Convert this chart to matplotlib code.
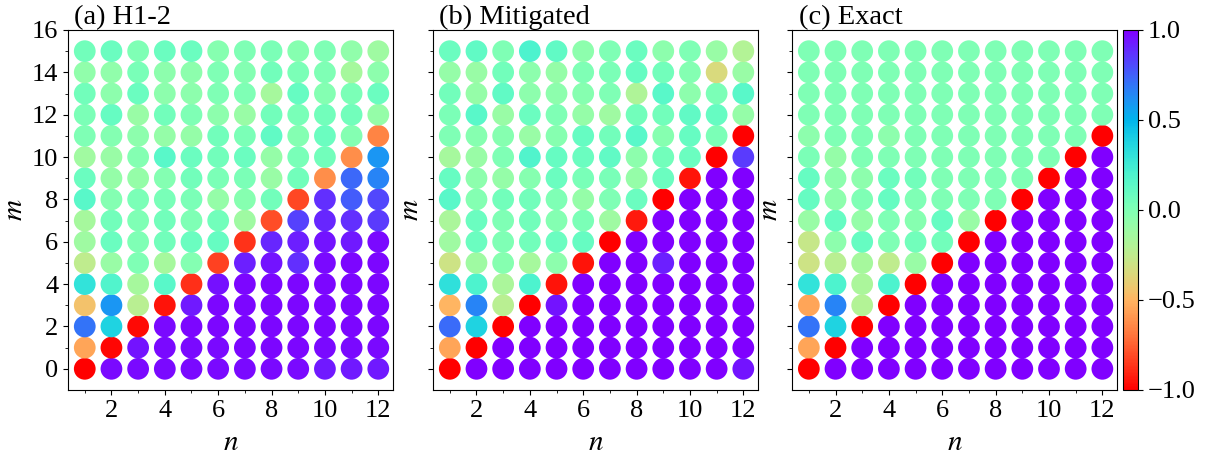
import numpy as np
import matplotlib
matplotlib.use("Agg")
import matplotlib.pyplot as plt

plt.rcParams['font.family'] = ['Liberation Serif', 'DejaVu Serif']
plt.rcParams['mathtext.fontset'] = 'stix'

# grid: columns n = 1..12, rows m = 0..15
n_vals = list(range(1, 13))
m_vals = list(range(0, 16))

# (a) H1-2 hardware result, rows m = 0..15
vals_h12 = [
    [-1.00, 0.97, 0.97, 0.97, 0.97, 0.97, 0.97, 0.97, 0.97, 0.93, 0.93, 0.93],
    [-0.55, -0.98, 0.95, 0.97, 0.97, 0.97, 0.98, 0.98, 0.98, 0.97, 0.97, 0.97],
    [0.70, 0.38, -0.97, 0.97, 0.98, 0.98, 0.98, 0.98, 0.98, 0.98, 0.98, 0.98],
    [-0.45, 0.60, -0.22, -0.95, 0.93, 0.98, 0.98, 0.98, 0.98, 0.98, 0.98, 0.98],
    [0.30, 0.18, -0.15, 0.15, -0.88, 0.96, 0.98, 0.98, 0.98, 0.98, 0.98, 0.98],
    [-0.25, -0.10, 0.00, -0.15, -0.02, -0.83, 0.92, 0.95, 0.88, 0.97, 0.98, 0.98],
    [-0.12, 0.08, 0.00, 0.05, 0.08, 0.10, -0.87, 0.90, 0.92, 0.95, 0.93, 0.97],
    [-0.15, 0.05, 0.00, 0.05, 0.00, 0.05, -0.12, -0.80, 0.83, 0.90, 0.88, 0.85],
    [0.15, -0.02, 0.02, 0.03, 0.02, -0.08, -0.03, 0.05, -0.82, 0.88, 0.76, 0.82],
    [0.08, -0.08, -0.08, -0.02, 0.05, 0.02, 0.02, -0.10, 0.05, -0.62, 0.73, 0.65],
    [-0.13, -0.10, -0.02, 0.15, 0.08, 0.05, 0.08, -0.08, 0.03, 0.05, -0.62, 0.60],
    [0.00, -0.02, -0.05, -0.08, -0.08, 0.05, 0.02, 0.12, -0.02, 0.08, -0.02, -0.65],
    [0.02, 0.10, -0.10, 0.05, 0.00, -0.05, -0.10, 0.05, 0.03, 0.05, 0.05, -0.08],
    [0.05, -0.05, 0.08, -0.05, -0.05, 0.00, 0.00, -0.15, 0.10, -0.02, 0.02, 0.08],
    [-0.07, -0.07, 0.03, -0.05, -0.05, 0.00, -0.02, 0.05, 0.02, 0.00, -0.15, -0.05],
    [0.05, 0.08, 0.00, 0.08, 0.08, -0.03, 0.00, 0.02, -0.03, 0.00, -0.07, -0.12],
]

# (b) mitigated
vals_mit = [
    [-1.00, 1.00, 1.00, 1.00, 1.00, 1.00, 1.00, 1.00, 1.00, 1.00, 1.00, 0.95],
    [-0.55, -1.00, 1.00, 1.00, 1.00, 1.00, 1.00, 1.00, 1.00, 1.00, 1.00, 1.00],
    [0.72, 0.38, -1.00, 1.00, 1.00, 1.00, 1.00, 1.00, 1.00, 1.00, 1.00, 1.00],
    [-0.50, 0.65, -0.22, -1.00, 0.95, 1.00, 1.00, 1.00, 1.00, 1.00, 1.00, 1.00],
    [0.32, 0.20, -0.17, 0.20, -0.95, 1.00, 1.00, 1.00, 1.00, 1.00, 1.00, 1.00],
    [-0.30, -0.12, -0.03, -0.15, -0.05, -0.95, 1.00, 1.00, 0.92, 1.00, 1.00, 1.00],
    [-0.12, 0.08, 0.00, 0.05, 0.08, 0.10, -1.00, 1.00, 1.00, 1.00, 1.00, 1.00],
    [-0.17, 0.08, 0.00, 0.05, -0.02, 0.02, -0.12, -0.93, 1.00, 1.00, 1.00, 1.00],
    [0.15, -0.02, 0.05, 0.05, 0.00, -0.08, 0.00, 0.08, -1.00, 1.00, 1.00, 1.00],
    [0.10, -0.05, -0.08, -0.03, 0.08, 0.03, 0.03, -0.08, 0.08, -0.95, 1.00, 1.00],
    [-0.15, -0.10, 0.00, 0.18, 0.10, 0.08, 0.12, -0.05, 0.05, 0.08, -1.00, 0.85],
    [0.00, -0.03, -0.03, -0.10, -0.03, 0.10, 0.05, 0.15, -0.03, 0.10, 0.02, -1.00],
    [0.02, 0.15, -0.10, 0.08, 0.00, -0.08, -0.12, 0.05, 0.05, 0.12, 0.10, -0.08],
    [0.05, -0.08, 0.12, -0.05, -0.05, -0.03, 0.00, -0.18, 0.15, -0.05, 0.02, 0.15],
    [-0.08, -0.10, 0.05, -0.05, -0.08, 0.00, 0.02, 0.10, 0.05, -0.02, -0.35, -0.10],
    [0.08, 0.12, 0.00, 0.20, 0.12, -0.05, 0.00, 0.08, -0.05, 0.00, -0.10, -0.20],
]

# (c) exact
vals_exact = [
    [-1.00, 1.00, 1.00, 1.00, 1.00, 1.00, 1.00, 1.00, 1.00, 1.00, 1.00, 1.00],
    [-0.55, -1.00, 1.00, 1.00, 1.00, 1.00, 1.00, 1.00, 1.00, 1.00, 1.00, 1.00],
    [0.70, 0.38, -1.00, 1.00, 1.00, 1.00, 1.00, 1.00, 1.00, 1.00, 1.00, 1.00],
    [-0.55, 0.65, -0.20, -1.00, 1.00, 1.00, 1.00, 1.00, 1.00, 1.00, 1.00, 1.00],
    [0.30, 0.20, -0.17, 0.20, -1.00, 1.00, 1.00, 1.00, 1.00, 1.00, 1.00, 1.00],
    [-0.30, -0.22, -0.15, -0.25, -0.10, -1.00, 1.00, 1.00, 1.00, 1.00, 1.00, 1.00],
    [-0.28, -0.05, 0.10, 0.00, 0.05, 0.05, -1.00, 1.00, 1.00, 1.00, 1.00, 1.00],
    [-0.10, 0.10, -0.08, 0.00, -0.03, 0.10, -0.10, -1.00, 1.00, 1.00, 1.00, 1.00],
    [0.10, -0.05, 0.00, 0.10, 0.00, 0.00, 0.00, 0.00, -1.00, 1.00, 1.00, 1.00],
    [0.10, -0.05, -0.05, 0.08, 0.05, 0.00, 0.00, 0.00, 0.00, -1.00, 1.00, 1.00],
    [0.02, -0.08, 0.00, 0.00, 0.00, 0.00, 0.00, 0.00, 0.00, 0.00, -1.00, 1.00],
    [-0.05, 0.00, 0.00, -0.05, 0.00, 0.00, 0.00, 0.00, 0.00, 0.00, 0.00, -1.00],
    [0.00, 0.00, 0.00, 0.00, 0.00, 0.00, 0.00, 0.00, 0.00, 0.00, 0.00, 0.00],
    [0.00, 0.00, 0.00, 0.00, 0.00, 0.00, 0.00, 0.00, 0.00, 0.00, 0.00, 0.00],
    [0.00, 0.00, 0.00, 0.00, 0.00, 0.00, 0.00, 0.00, 0.00, 0.00, 0.00, 0.00],
    [0.00, 0.00, 0.00, 0.00, 0.00, 0.00, 0.00, 0.00, 0.00, 0.00, 0.00, 0.00],
]

titles = ['(a) H1-2', '(b) Mitigated', '(c) Exact']
panels = [vals_h12, vals_mit, vals_exact]

fig = plt.figure(figsize=(12.2, 4.58), dpi=100)
lefts = [0.0557, 0.3549, 0.6492]
NN, MM = np.meshgrid(n_vals, m_vals)

for i, (vals, title) in enumerate(zip(panels, titles)):
    ax = fig.add_axes([lefts[i], 0.1485, 0.2664, 0.786])
    sc = ax.scatter(NN.ravel(), MM.ravel(), c=np.array(vals).ravel(),
                    cmap='rainbow_r', vmin=-1, vmax=1, s=245, linewidths=0)
    ax.set_xlim(0.37, 12.55)
    ax.set_ylim(-1, 16)
    ax.set_xticks(range(2, 13, 2))
    ax.set_xticks(range(1, 13, 2), minor=True)
    ax.set_yticks(range(0, 17, 2))
    ax.set_yticks(range(1, 16, 2), minor=True)
    ax.tick_params(labelsize=19)
    if i > 0:
        ax.tick_params(labelleft=False)
        ax.set_ylabel('$m$', fontsize=21, labelpad=1)
    else:
        ax.set_ylabel('$m$', fontsize=21, labelpad=3)
    ax.set_xlabel('$n$', fontsize=21, labelpad=6)
    ax.text(0.02, 1.0, title, transform=ax.transAxes, fontsize=20.5,
            ha='left', va='bottom')

cax = fig.add_axes([0.9205, 0.1485, 0.0123, 0.786])
cb = fig.colorbar(sc, cax=cax, ticks=[-1.0, -0.5, 0.0, 0.5, 1.0])
cb.ax.set_yticklabels(['\u22121.0', '\u22120.5', '0.0', '0.5', '1.0'])
cb.ax.tick_params(labelsize=19)

plt.savefig('out.png', dpi=100)
